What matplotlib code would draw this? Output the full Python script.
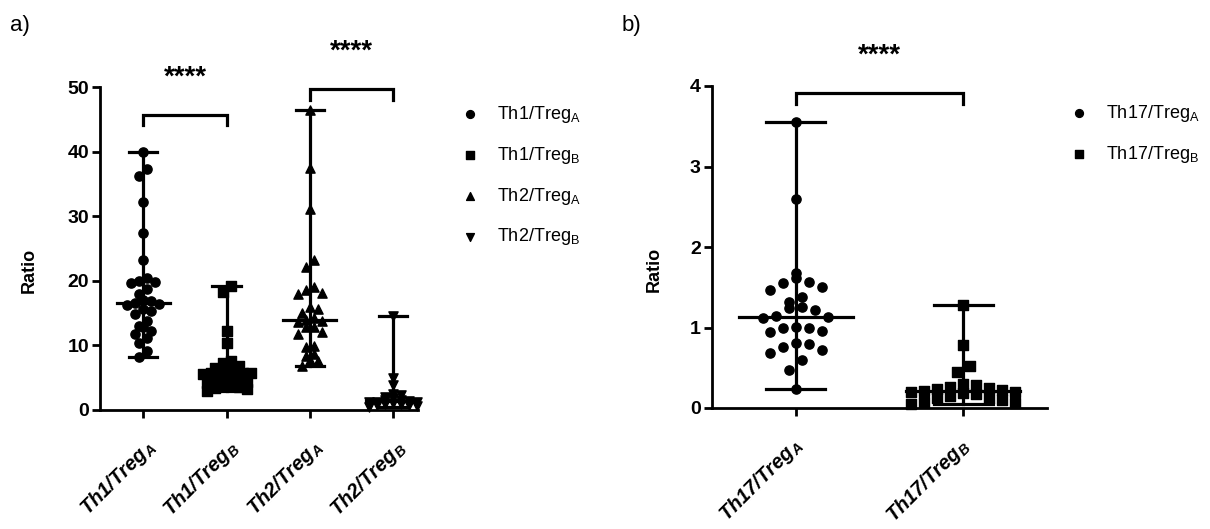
import matplotlib
matplotlib.use("Agg")
import matplotlib.pyplot as plt
import matplotlib.transforms as mtransforms
import numpy as np

plt.rcParams["font.family"] = ["Liberation Sans", "DejaVu Sans"]

# panel a values
th1_a = [40.0, 37.3, 36.3, 32.2, 27.4, 23.2, 20.5, 20.0, 19.8, 19.6, 18.8, 18.0,
         17.1, 16.8, 16.5, 16.4, 16.2, 15.6, 15.4, 14.8, 13.7, 13.0, 12.8, 12.3,
         11.8, 11.2, 10.4, 9.2, 8.2]
th1_b = [19.2, 18.2, 12.2, 10.4, 7.6, 7.2, 6.8, 6.5, 6.2, 6.0, 5.9, 5.8, 5.8,
         5.7, 5.5, 5.2, 5.0, 4.8, 4.6, 4.4, 4.2, 4.0, 3.8, 3.6, 3.4, 3.2, 3.0]
th2_a = [46.5, 37.4, 31.1, 23.2, 22.2, 19.1, 18.6, 18.1, 18.0, 15.9, 15.7, 15.0,
         14.2, 14.0, 13.8, 13.6, 12.9, 12.8, 12.0, 11.8, 9.9, 9.7, 8.6, 8.4, 7.8,
         7.6, 6.8]
th2_b = [14.5, 5.0, 3.8, 2.5, 2.3, 2.0, 1.8, 1.6, 1.5, 1.4, 1.3, 1.3, 1.2, 1.1,
         1.0, 0.9, 0.8, 0.7, 0.6, 0.5]

# panel b values
th17_a = [3.55, 2.6, 1.68, 1.61, 1.57, 1.55, 1.50, 1.47, 1.38, 1.32, 1.26, 1.24,
          1.22, 1.14, 1.13, 1.12, 1.01, 1.00, 0.99, 0.96, 0.95, 0.81, 0.80, 0.76,
          0.72, 0.68, 0.60, 0.47, 0.23]
th17_b = [1.28, 0.78, 0.52, 0.45, 0.30, 0.28, 0.26, 0.25, 0.24, 0.22, 0.21, 0.20,
          0.20, 0.19, 0.18, 0.15, 0.13, 0.12, 0.10, 0.08, 0.06, 0.05]

labels_a = ["Th1/Treg", "Th1/Treg", "Th2/Treg", "Th2/Treg"]
subs_a = ["A", "B", "A", "B"]
markers_a = ["o", "s", "^", "v"]
labels_b = ["Th17/Treg", "Th17/Treg"]
subs_b = ["A", "B"]
markers_b = ["o", "s"]

# significance: (group i, group j, bar height, text)
sig_a = [(0, 1, 45.7, "****"), (2, 3, 49.7, "****")]
sig_b = [(0, 1, 3.91, "****")]


def swarm_offsets(ax, xpos, values, row_px, step_px, max_n):
    """Prism-like scatter: group points into rows by pixel height, spread each row."""
    vals = np.asarray(values, dtype=float)
    pts = ax.transData.transform(np.column_stack([np.full(len(vals), xpos), vals]))
    x0 = pts[0, 0]
    ypx = pts[:, 1]
    order = np.argsort(ypx)
    rows = []
    for k in order:
        if rows and ypx[k] - ypx[rows[-1][0]] < row_px and len(rows[-1]) < max_n:
            rows[-1].append(k)
        else:
            rows.append([k])
    xs = np.full(len(vals), x0)
    for row in rows:
        n = len(row)
        for rank, k in enumerate(row):
            # alternate left/right so neighbours in value are not all on one side
            slot = rank // 2 if rank % 2 == 0 else n - 1 - rank // 2
            xs[k] = x0 + (slot - (n - 1) / 2) * step_px
    inv = ax.transData.inverted()
    return inv.transform(np.column_stack([xs, ypx]))[:, 0]


def draw_panel(ax, groups, labels, subs, markers, sigs, ylim, yticks, xlim, cap,
               med_w, row_px, step_px, max_n, label_shift, legend_x):
    ax.set_ylim(*ylim)
    ax.set_xlim(*xlim)
    for i, (vals, m) in enumerate(zip(groups, markers)):
        vals = np.array(vals)
        xs = swarm_offsets(ax, i, vals, row_px, step_px, max_n)
        ax.scatter(xs, vals, marker=m, s=44, color="black", zorder=3,
                   label=f"{labels[i]}$_\\mathregular{{{subs[i]}}}$", clip_on=False)
        lo, hi, med = vals.min(), vals.max(), np.median(vals)
        ax.plot([i, i], [lo, hi], color="black", lw=2.3, zorder=4)
        ax.plot([i - cap, i + cap], [lo, lo], color="black", lw=2.3, zorder=4)
        ax.plot([i - cap, i + cap], [hi, hi], color="black", lw=2.3, zorder=4)
        ax.plot([i - med_w, i + med_w], [med, med], color="black", lw=2.3, zorder=4)
    span = ylim[1] - ylim[0]
    for i, j, h, txt in sigs:
        ax.plot([i, i, j, j], [h - span * 0.033, h, h, h - span * 0.033],
                color="black", lw=2.3, clip_on=False, solid_joinstyle="miter")
        ax.text((i + j) / 2, h + span * 0.075, txt, ha="center", va="bottom",
                fontsize=20, fontweight="bold", clip_on=False)
    ax.set_yticks(yticks)
    ax.set_yticklabels([str(t) for t in yticks], fontweight="bold", fontsize=14)
    ax.set_xticks(range(len(groups)))
    ax.set_xticklabels([f"{l}$_\\mathregular{{{s}}}$" for l, s in zip(labels, subs)],
                       rotation=45, ha="right", va="center", rotation_mode="anchor",
                       fontweight="bold", fontstyle="italic", fontsize=14.5)
    ax.set_ylabel("Ratio", fontweight="bold", fontsize=13)
    for side in ("top", "right"):
        ax.spines[side].set_visible(False)
    for side in ("left", "bottom"):
        ax.spines[side].set_linewidth(2.0)
    ax.tick_params(width=2.0, length=6, direction="out", pad=2)
    # shift the rotated labels after tick_params, which would reset the transform
    offset = mtransforms.ScaledTranslation(label_shift / 100, -0.23,
                                           ax.figure.dpi_scale_trans)
    for lab in ax.get_xticklabels():
        lab.set_transform(lab.get_transform() + offset)
    ax.legend(loc="upper left", bbox_to_anchor=(legend_x, 0.97), frameon=False,
              fontsize=13, labelspacing=1.1, handletextpad=0.5, markerscale=0.85,
              borderaxespad=0)


fig = plt.figure(figsize=(12.1, 5.29), dpi=100)
ax_a = fig.add_axes([100 / 1210, 119 / 529, 318 / 1210, 323 / 529])
ax_b = fig.add_axes([712 / 1210, 121 / 529, 335 / 1210, 322 / 529])

draw_panel(ax_a, [th1_a, th1_b, th2_a, th2_b], labels_a, subs_a, markers_a, sig_a,
           (0, 50), [0, 10, 20, 30, 40, 50], (-0.52, 3.3), cap=0.17, med_w=0.32,
           row_px=7.5, step_px=8.0, max_n=7, label_shift=9, legend_x=1.085)
draw_panel(ax_b, [th17_a, th17_b], labels_b, subs_b, markers_b, sig_b,
           (0, 4), [0, 1, 2, 3, 4], (-0.5, 1.5), cap=0.175, med_w=0.34,
           row_px=12.0, step_px=13.0, max_n=9, label_shift=3, legend_x=1.02)

ax_a.yaxis.set_label_coords(-0.197, 0.433)
ax_b.yaxis.set_label_coords(-0.146, 0.43)

fig.text(10 / 1210, 1 - 25 / 529, "a)", fontsize=16, va="center")
fig.text(622 / 1210, 1 - 25 / 529, "b)", fontsize=16, va="center")

fig.savefig("out.png", dpi=100)
